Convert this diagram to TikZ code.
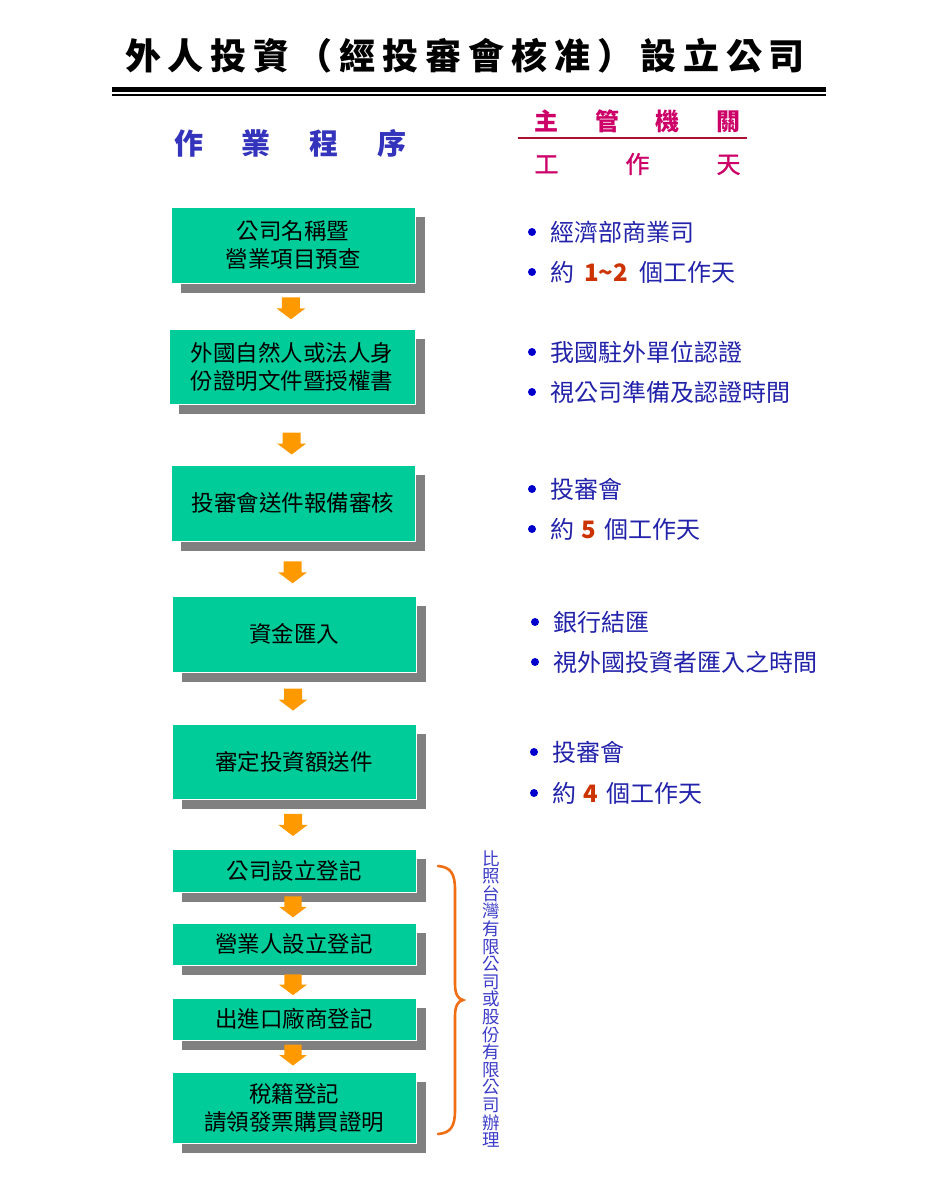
\documentclass[tikz,border=0pt]{standalone}
\usepackage{fontspec}
\setmainfont{Noto Sans CJK TC}
\newfontfamily\cjkmed[FakeBold=1.2]{Noto Sans CJK TC}
\usetikzlibrary{calc,shadows}
\definecolor{boxgreen}{RGB}{0,204,153}
\definecolor{shadowgray}{RGB}{128,128,128}
\definecolor{arroworange}{RGB}{255,153,0}
\definecolor{headblue}{RGB}{51,51,187}
\definecolor{textblue}{RGB}{34,34,170}
\definecolor{dotblue}{RGB}{0,0,204}
\definecolor{numred}{RGB}{204,51,0}
\definecolor{crimson}{RGB}{204,0,102}
\definecolor{rulered}{RGB}{170,17,51}
\definecolor{braceorange}{RGB}{240,110,20}
\definecolor{vertblue}{RGB}{60,60,200}
\begin{document}
\begin{tikzpicture}[x=1pt,y=-1pt,
  stepbox/.style={draw=white, line width=0.8pt, fill=boxgreen, minimum width=244pt,
    align=center, inner sep=0pt, font=\fontsize{22.5}{28}\selectfont,
    general shadow={fill=shadowgray, shadow xshift=10pt, shadow yshift=-10pt}},
  info/.style={anchor=west, inner sep=0pt, text=textblue, font=\fontsize{24}{28}\selectfont},
  dot/.style={circle, fill=dotblue, inner sep=0pt, minimum size=8pt},
  downarrow/.pic={\fill[arroworange] (-9,-11) -- (9,-11) -- (9,0) -- (14.5,0) -- (0,11) -- (-14.5,0) -- (-9,0) -- cycle;}
]
\useasboundingbox (0,0) rectangle (928,1201);
\fill[white] (0,0) rectangle (928,1201);

% title
\node[inner sep=0pt, font=\fontsize{36}{40}\bfseries] (title) at (465,56)
  {\makebox[680pt]{外\hfill 人\hfill 投\hfill 資\hfill （\hfill 經\hfill 投\hfill 審\hfill 會\hfill 核\hfill 准\hfill ）\hfill 設\hfill 立\hfill 公\hfill 司}};
\draw[line width=4.5pt] (112,89.5) -- (826,89.5);
\draw[line width=1.4pt] (112,95) -- (826,95);

% column headings
\node[inner sep=0pt, text=headblue, font=\fontsize{29}{32}\bfseries] (proc) at (290,143)
  {\makebox[232pt]{作\hfill 業\hfill 程\hfill 序}};
\node[inner sep=0pt, text=crimson, font=\fontsize{24}{28}\bfseries] (auth) at (637.5,121)
  {\makebox[206pt]{主\hfill 管\hfill 機\hfill 關}};
\draw[rulered, line width=2pt] (518,138.5) -- (747,138.5);
\node[inner sep=0pt, text=crimson, font=\fontsize{24}{28}\cjkmed] (days) at (637.5,164)
  {\makebox[206pt]{工\hfill 作\hfill 天}};

% process boxes
\node[stepbox, minimum height=76pt] (b1) at (293,245) {公司名稱暨\\營業項目預查};
\node[stepbox, minimum height=75pt, minimum width=246pt] (b2) at (292,366.5) {外國自然人或法人身\\份證明文件暨授權書};
\node[stepbox, minimum height=76pt] (b3) at (293,503) {投審會送件報備審核};
\node[stepbox, minimum height=76pt] (b4) at (294,634) {資金匯入};
\node[stepbox, minimum height=75pt] (b5) at (294,761.5) {審定投資額送件};
\node[stepbox, minimum height=43pt] (b6) at (294,870.5) {公司設立登記};
\node[stepbox, minimum height=42pt] (b7) at (294,944) {營業人設立登記};
\node[stepbox, minimum height=42pt] (b8) at (294,1019) {出進口廠商登記};
\node[stepbox, minimum height=71pt] (b9) at (294,1107.5) {稅籍登記\\請領發票購買證明};

% arrows between boxes
\pic at ($(b1.south)!0.55!(b2.north)+(-1.5,0)$) {downarrow};
\pic at ($(b2.south)!0.65!(b3.north)+(-1,0)$) {downarrow};
\pic at ($(b3.south)!0.57!(b4.north)+(-1,0)$) {downarrow};
\pic at ($(b4.south)!0.53!(b5.north)+(-1,0)$) {downarrow};
\pic at ($(b5.south)!0.52!(b6.north)+(-1,0)$) {downarrow};
\pic[scale=0.95] at ($(b6.south)!0.48!(b7.north)+(-1,0)$) {downarrow};
\pic[scale=0.95] at ($(b7.south)!0.6!(b8.north)+(-1,0)$) {downarrow};
\pic[scale=0.95] at ($(b8.south)!0.47!(b9.north)+(-1,0)$) {downarrow};

% right-hand information
\node[dot] (d1) at (532,232) {};
\node[info] (i1) at (550,232) {經濟部商業司};
\node[dot] (d2) at (532,272) {};
\node[info] (i2) at (550,272) {約\hspace{10pt}{\color{numred}\bfseries 1\textasciitilde 2}\hspace{11pt}個工作天};
\node[dot] (d3) at (532,352) {};
\node[info] (i3) at (550,352) {我國駐外單位認證};
\node[dot] (d4) at (532,392) {};
\node[info] (i4) at (550,392) {視公司準備及認證時間};
\node[dot] (d5) at (532,489) {};
\node[info] (i5) at (550,489) {投審會};
\node[dot] (d6) at (532,529) {};
\node[info] (i6) at (550,529) {約\hspace{7pt}{\color{numred}\bfseries 5}\hspace{9pt}個工作天};
\node[dot] (d7) at (535,622) {};
\node[info] (i7) at (553,622) {銀行結匯};
\node[dot] (d8) at (535,662) {};
\node[info] (i8) at (553,662) {視外國投資者匯入之時間};
\node[dot] (d9) at (534,752) {};
\node[info] (i9) at (552,752) {投審會};
\node[dot] (d10) at (534,793) {};
\node[info] (i10) at (552,793) {約\hspace{7pt}{\color{numred}\bfseries 4}\hspace{9pt}個工作天};

% brace and vertical note
\draw[braceorange, line width=2.6pt, line cap=round]
  (438,866) .. controls (451,867) and (455,874) .. (455,890) -- (455,984)
  .. controls (455,994) and (458,999) .. (463,1000)
  .. controls (458,1001) and (455,1006) .. (455,1016) -- (455,1110)
  .. controls (455,1126) and (451,1133) .. (438,1134);
\node[inner sep=0pt, align=center, text=vertblue, font=\fontsize{17.5}{17.6}\selectfont] (note) at (491,999)
  {比\\照\\台\\灣\\有\\限\\公\\司\\或\\股\\份\\有\\限\\公\\司\\辦\\理};
\end{tikzpicture}
\end{document}
